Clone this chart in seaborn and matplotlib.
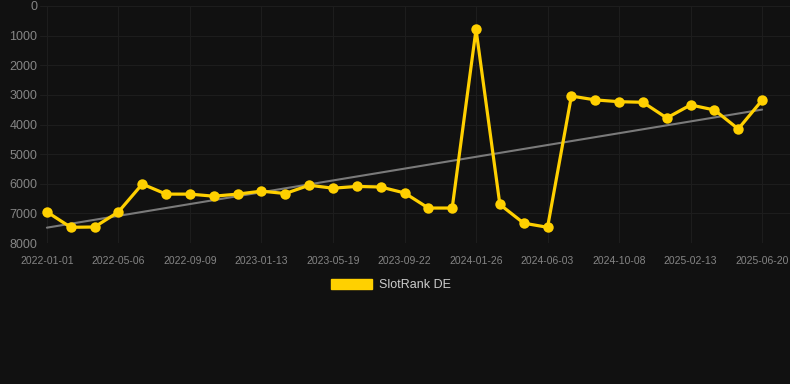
import numpy as np
import pandas as pd
import seaborn as sns
import matplotlib.pyplot as plt
from matplotlib.patches import Patch

# rank values, one point roughly every six weeks
rank = [6950, 7470, 7460, 6950, 6010, 6350, 6350, 6420, 6350, 6250,
        6330, 6050, 6150, 6090, 6110, 6310, 6820, 6820, 790, 6700,
        7330, 7470, 3040, 3170, 3230, 3250, 3780, 3340, 3510, 4150, 3180]
tick_labels = ['2022-01-01', '2022-05-06', '2022-09-09', '2023-01-13',
               '2023-05-19', '2023-09-22', '2024-01-26', '2024-06-03',
               '2024-10-08', '2025-02-13', '2025-06-20']

df = pd.DataFrame({'idx': np.arange(len(rank)), 'rank': rank})

bg = '#111111'
yellow = '#FFD000'
sns.set_style("dark")
plt.rcParams['font.family'] = ['Liberation Sans', 'DejaVu Sans']

fig = plt.figure(figsize=(7.9, 3.84), dpi=100, facecolor=bg)
ax = fig.add_axes([40 / 790, 1 - 243 / 384, 750 / 790, 237 / 384])
ax.set_facecolor(bg)

sns.regplot(x='idx', y='rank', data=df, scatter=False, ci=None, ax=ax,
            line_kws={'color': '#7a7a7a', 'lw': 1.5, 'zorder': 2})
sns.lineplot(x='idx', y='rank', data=df, ax=ax, color=yellow, lw=2.3,
             marker='o', markersize=7.5, markeredgewidth=0, zorder=3)

ax.set_xlim(-0.29, 31.17)
ax.set_ylim(8000, 0)
ax.set_yticks(range(0, 8001, 1000))
ax.set_xticks(range(0, len(rank), 3))
ax.set_xticklabels(tick_labels)
ax.tick_params(axis='y', colors='#858585', labelsize=9, length=0, pad=2)
ax.tick_params(axis='x', colors='#858585', labelsize=7.5, length=0, pad=9)
ax.grid(True, color='#1d1d1d', lw=0.8)
for s in ax.spines.values():
    s.set_visible(False)
ax.set_xlabel('')
ax.set_ylabel('')

fig.legend(handles=[Patch(facecolor=yellow, edgecolor=yellow)], labels=['SlotRank DE'],
           loc='center', bbox_to_anchor=(391 / 790, 1 - 285 / 384), frameon=False,
           fontsize=9, labelcolor='#cccccc', handlelength=3.3, handleheight=0.9,
           handletextpad=0.6)

fig.savefig('out.png', facecolor=bg)
